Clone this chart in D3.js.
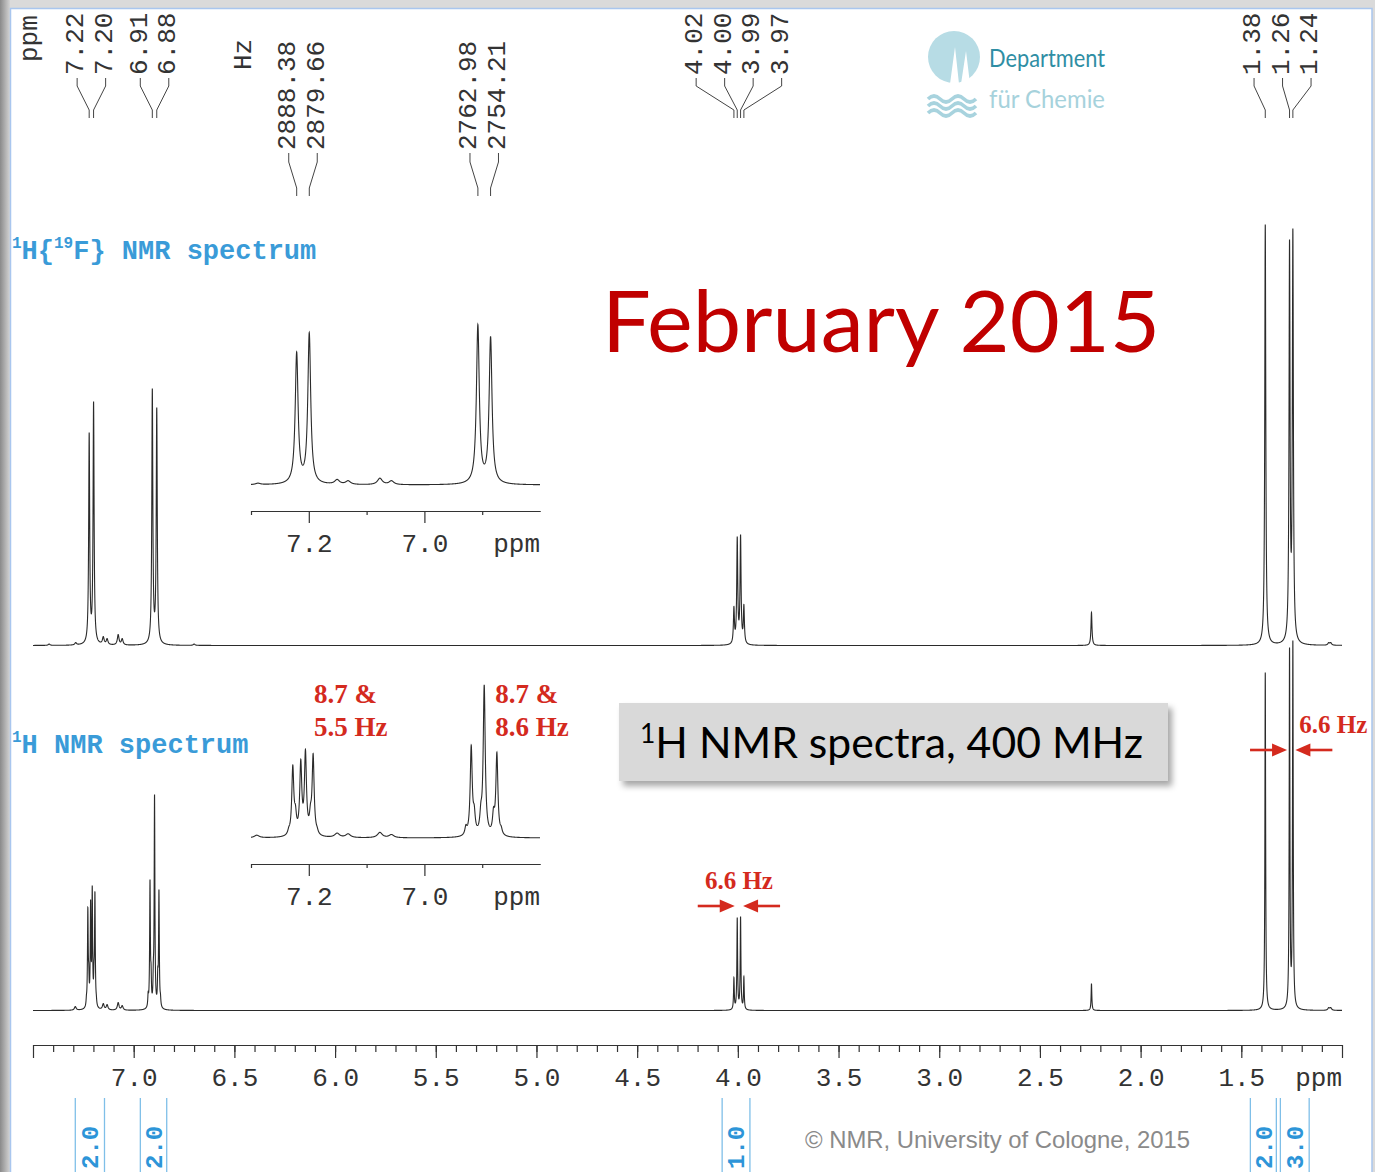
<!DOCTYPE html>
<html>
<head>
<meta charset="utf-8">
<script src="https://cdn.jsdelivr.net/npm/d3@7"></script>
<style>
  html, body { margin: 0; padding: 0; background: #fff; }
  svg { display: block; }
</style>
</head>
<body>
<svg id="chart" width="1375" height="1172"></svg>
<script>
// ---- data ----
// 1H{19F} spectrum (top): line positions in ppm and heights (main-plot px)
const decPpm = [7.2210, 7.1992, 6.9075, 6.8855, 4.0195, 4.0030, 3.9865, 3.9700, 2.244, 1.3810, 1.2605, 1.2440];
const decHeight = [213, 244, 257, 238, 39, 109, 111, 41, 33, 421, 406, 417];
const decMinorPpm = [7.42, 7.288, 7.151, 7.132, 7.077, 7.057, 6.70, 1.066, 1.056];
const decMinorHeight = [1.5, 3, 9, 7, 11, 7, 1.5, 3, 3];

// 1H spectrum (bottom)
const cplPpm = [7.2346, 7.2277, 7.2231, 7.2139, 7.2058, 7.1971, 7.1925, 7.1856,
                6.9282, 6.9190, 6.9138, 6.9023, 6.8965, 6.8804, 6.8746, 6.8671,
                4.0195, 4.0030, 3.9865, 3.9700, 2.244, 1.3810, 1.2605, 1.2440];
const cplHeight = [16, 103, 47, 111, 125, 49, 119, 16,
                   19, 131, 47, 51, 216, 44, 121, 17,
                   33, 93, 94, 34, 27, 338, 363, 370];
const cplMinorPpm = [7.29, 7.151, 7.132, 7.077, 7.057, 1.066, 1.056];
const cplMinorHeight = [4, 7, 6, 8, 5, 3, 3];

// peak labels
const peakLabel = ["7.22", "7.20", "6.91", "6.88", "4.02", "4.00", "3.99", "3.97", "1.38", "1.26", "1.24"];
const peakLabelPpm = [7.2210, 7.1992, 6.9075, 6.8855, 4.0195, 4.0030, 3.9865, 3.9700, 1.3810, 1.2605, 1.2440];
const peakLabelGroup = [0, 0, 1, 1, 2, 2, 2, 2, 3, 3, 3];
const hzLabel = ["2888.38", "2879.66", "2762.98", "2754.21"];
const hzLabelGroup = [0, 0, 1, 1];
const spectrometerMHz = 400;

// axis ticks
const majorTicks = [7.5, 7.0, 6.5, 6.0, 5.5, 5.0, 4.5, 4.0, 3.5, 3.0, 2.5, 2.0, 1.5, 1.0];
const labeledTicks = [7.0, 6.5, 6.0, 5.5, 5.0, 4.5, 4.0, 3.5, 3.0, 2.5, 2.0, 1.5];
const insetMajor = [7.2, 7.0];
const insetMinor = [7.3, 7.1, 6.9];

// integrals
const integralFrom = [7.290, 6.967, 4.078, 1.455, 1.306];
const integralTo = [7.145, 6.836, 3.940, 1.326, 1.163];
const integralValue = ["2.0", "2.0", "1.0", "2.0", "3.0"];

// coupling arrows (pairs of lines) and coupling notes
const arrowLeftPpm = [4.0030, 1.2605];
const arrowRightPpm = [3.9865, 1.2440];
const arrowText = ["6.6 Hz", "6.6 Hz"];
const noteLine1 = ["8.7 &", "8.7 &"];
const noteLine2 = ["5.5 Hz", "8.6 Hz"];
const notePpm = [7.2101, 6.8965];

// ---- setup ----
const W = 1375, H = 1172;
const MONO = "'Liberation Mono', 'DejaVu Sans Mono', monospace";
const BLUE = '#3a9bd8';
const RED = '#d42a1e';
const svg = d3.select('#chart');

const xMain = d3.scaleLinear().domain([7.5, 1.0]).range([33, 1342]);
const xInset = d3.scaleLinear().domain([7.3, 6.8]).range([251, 540]);

const yTop = d3.scaleLinear().domain([0, 421]).range([645.5, 224.5]);
const yBot = d3.scaleLinear().domain([0, 338]).range([1010.5, 672.5]);
const yTopInset = d3.scaleLinear().domain([0, 421]).range([485, 485 - 421 / 1.6]);
const yBotInset = d3.scaleLinear().domain([0, 338]).range([838, 838 - 338 / 1.41]);

// ---- frame ----
const defs = svg.append('defs');
const edge = defs.append('linearGradient').attr('id', 'edge').attr('x1', 0).attr('x2', 1);
edge.append('stop').attr('offset', 0).attr('stop-color', '#8a8a8a');
edge.append('stop').attr('offset', 1).attr('stop-color', '#d4d4d4');
const shadow = defs.append('filter').attr('id', 'shadow')
  .attr('x', '-10%').attr('y', '-20%').attr('width', '120%').attr('height', '150%');
shadow.append('feDropShadow').attr('dx', 4).attr('dy', 5).attr('stdDeviation', 3)
  .attr('flood-color', '#000').attr('flood-opacity', 0.35);

svg.append('rect').attr('width', W).attr('height', H).attr('fill', '#dadada');
svg.append('rect').attr('x', 0).attr('y', 0).attr('width', 10).attr('height', H).attr('fill', 'url(#edge)');
svg.append('rect').attr('x', 10.5).attr('y', 8.5).attr('width', 1361.5).attr('height', H)
  .attr('fill', '#fff').attr('stroke', '#a9c6ee').attr('stroke-width', 1.5);

// ---- spectra ----
function lorentz(d, w) { const t = 2 * d / w; return 1 / (1 + t * t); }

// amplitudes so that the drawn maxima match the heights
function makeSpectrum(pos, height, width) {
  const amp = height.slice();
  for (let it = 0; it < 80; it++) {
    pos.forEach((p, i) => {
      let s = 0;
      pos.forEach((q, j) => { if (j !== i) s += amp[j] * lorentz(p - q, width[j]); });
      amp[i] = Math.max(0, height[i] - s);
    });
  }
  return ppm => {
    let s = 0;
    for (let j = 0; j < pos.length; j++) s += amp[j] * lorentz(ppm - pos[j], width[j]);
    return s;
  };
}

function sampleGrid(lo, hi, step, centers) {
  const pts = d3.range(lo, hi, step).concat([hi]);
  centers.forEach(c => {
    for (let d = -0.04; d <= 0.04; d += 0.0002) pts.push(c + d);
    pts.push(c);
  });
  return pts.filter(p => p >= lo && p <= hi).sort((a, b) => b - a);
}

const decAll = decPpm.concat(decMinorPpm);
const decSpec = makeSpectrum(decAll, decHeight.concat(decMinorHeight),
  decPpm.map(() => 0.006).concat(decMinorPpm.map(() => 0.01)));
const cplAll = cplPpm.concat(cplMinorPpm);
const cplSpec = makeSpectrum(cplAll, cplHeight.concat(cplMinorHeight),
  cplPpm.map(() => 0.0042).concat(cplMinorPpm.map(() => 0.01)));

function drawSpectrum(f, centers, x, y, lo, hi, step) {
  const grid = sampleGrid(lo, hi, step, centers);
  svg.append('path')
    .datum(grid)
    .attr('fill', 'none')
    .attr('stroke', '#2b2b2b')
    .attr('stroke-width', 1.1)
    .attr('d', d3.line().x(p => x(p)).y(p => y(f(p))));
}

drawSpectrum(decSpec, decAll, xMain, yTop, 1.0, 7.5, 0.001);
drawSpectrum(cplSpec, cplAll, xMain, yBot, 1.0, 7.5, 0.001);
drawSpectrum(decSpec, decAll, xInset, yTopInset, 6.8, 7.3, 0.0003);
drawSpectrum(cplSpec, cplAll, xInset, yBotInset, 6.8, 7.3, 0.0003);

// ---- axes ----
function styleAxis(g) {
  g.select('.domain').attr('stroke', '#333').attr('stroke-width', 1.2);
  g.selectAll('.tick line').attr('stroke', '#333').attr('stroke-width', 1.2);
  g.selectAll('.tick text').attr('font-family', MONO).attr('font-size', 26).attr('fill', '#333');
}

const axisY = 1045;
svg.append('g').attr('transform', `translate(0,${axisY})`)
  .call(d3.axisBottom(xMain).tickValues(d3.range(11, 75).map(i => i / 10))
    .tickSize(7).tickSizeOuter(0).tickFormat(''))
  .call(styleAxis);
svg.append('g').attr('transform', `translate(0,${axisY})`)
  .call(d3.axisBottom(xMain).tickValues(majorTicks).tickSize(13).tickSizeOuter(0).tickPadding(10)
    .tickFormat(d => labeledTicks.includes(d) ? d.toFixed(1) : ''))
  .call(styleAxis);
svg.append('text').attr('x', 1342).attr('y', axisY + 41).attr('text-anchor', 'end')
  .attr('font-family', MONO).attr('font-size', 26).attr('fill', '#333').text('ppm');

[511, 864].forEach(ay => {
  svg.append('g').attr('transform', `translate(0,${ay})`)
    .call(d3.axisBottom(xInset).tickValues(insetMinor).tickSize(4).tickSizeOuter(0).tickFormat(''))
    .call(styleAxis);
  svg.append('g').attr('transform', `translate(0,${ay})`)
    .call(d3.axisBottom(xInset).tickValues(insetMajor).tickSize(12).tickSizeOuter(0).tickPadding(11)
      .tickFormat(d => d.toFixed(1)))
    .call(styleAxis);
  svg.append('text').attr('x', 540).attr('y', ay + 41).attr('text-anchor', 'end')
    .attr('font-family', MONO).attr('font-size', 26).attr('fill', '#333').text('ppm');
});

// ---- peak labels ----
function drawLabels(texts, xs, groups, yText, yKnee1, yKnee2, yEnd) {
  const slot = [];
  d3.groups(d3.range(texts.length), i => groups[i]).forEach(([, idx]) => {
    const mean = d3.mean(idx, i => xs[i]);
    idx.forEach((i, k) => { slot[i] = mean + (k - (idx.length - 1) / 2) * 28.5; });
  });
  texts.forEach((t, i) => {
    svg.append('text')
      .attr('transform', `translate(${slot[i] - 2},${yText}) rotate(-90)`)
      .attr('dy', '0.32em')
      .attr('font-family', MONO).attr('font-size', 26).attr('fill', '#333')
      .text(t);
    svg.append('path')
      .attr('fill', 'none').attr('stroke', '#444').attr('stroke-width', 1)
      .attr('d', `M${slot[i]},${yText + 3}V${yKnee1}L${xs[i]},${yKnee2}V${yEnd}`);
  });
}

drawLabels(peakLabel, peakLabelPpm.map(p => xMain(p)), peakLabelGroup, 75, 86, 110, 118);
drawLabels(hzLabel, hzLabel.map(h => xInset(+h / spectrometerMHz)), hzLabelGroup, 150, 162, 188, 196);

svg.append('text').attr('transform', 'translate(29,62) rotate(-90)').attr('dy', '0.32em')
  .attr('font-family', MONO).attr('font-size', 26).attr('fill', '#333').text('ppm');
svg.append('text').attr('transform', 'translate(243,70) rotate(-90)').attr('dy', '0.32em')
  .attr('font-family', MONO).attr('font-size', 26).attr('fill', '#333').text('Hz');

// ---- spectrum titles ----
function title(y, parts) {
  const t = svg.append('text').attr('x', 12).attr('y', y)
    .attr('font-family', MONO).attr('font-size', 27).attr('font-weight', 'bold').attr('fill', BLUE);
  parts.forEach(([s, sup]) => {
    t.append('tspan').attr('font-size', sup ? 16 : 27).attr('dy', sup ? -11 : 11).text(s);
  });
  t.select('tspan').attr('dy', -11);
}
title(259, [['1', true], ['H{', false], ['19', true], ['F} NMR spectrum', false]]);
title(753, [['1', true], ['H NMR spectrum', false]]);

// ---- integrals ----
integralValue.forEach((v, i) => {
  const a = xMain(integralFrom[i]), b = xMain(integralTo[i]);
  [a, b].forEach(xx => svg.append('line').attr('x1', xx).attr('x2', xx).attr('y1', 1098).attr('y2', H)
    .attr('stroke', '#7fbfe8').attr('stroke-width', 1.3));
  svg.append('text')
    .attr('transform', `translate(${(a + b) / 2},${H - 3}) rotate(-90)`)
    .attr('dy', '0.35em')
    .attr('font-family', MONO).attr('font-size', 24).attr('font-weight', 'bold').attr('fill', '#2d95d8')
    .text(v);
});

svg.append('text').attr('x', 805).attr('y', 1148)
  .attr('font-family', "'Liberation Sans', Arial, sans-serif").attr('font-size', 24).attr('fill', '#8a8a8a')
  .attr('textLength', 385).attr('lengthAdjust', 'spacingAndGlyphs')
  .text('\u00A9 NMR, University of Cologne, 2015');

// ---- logo ----
const logo = svg.append('g');
logo.append('circle').attr('cx', 954).attr('cy', 57).attr('r', 26).attr('fill', '#b7dce5');
logo.append('path').attr('fill', '#fff')
  .attr('d', 'M950,84 L955,47 L959,84 Z M961,84 L966,51 L970,84 Z');
[99, 106, 113].forEach(y0 => {
  logo.append('path').attr('fill', 'none').attr('stroke', '#a8d3de').attr('stroke-width', 3.6)
    .attr('d', `M928,${y0} q6,-6 12,0 t12,0 t12,0 t12,0`);
});
logo.append('text').attr('x', 989).attr('y', 67)
  .attr('font-family', 'Lato, sans-serif').attr('font-size', 25).attr('fill', '#2f8ea4')
  .attr('textLength', 116).attr('lengthAdjust', 'spacingAndGlyphs').text('Department');
logo.append('text').attr('x', 989).attr('y', 108)
  .attr('font-family', 'Lato, sans-serif').attr('font-size', 25).attr('fill', '#a6d2dc')
  .attr('textLength', 116).attr('lengthAdjust', 'spacingAndGlyphs').text('für Chemie');

// ---- headline and box ----
svg.append('text').attr('x', 602).attr('y', 352)
  .attr('font-family', 'Lato, sans-serif').attr('font-size', 86).attr('fill', '#c00000')
  .attr('textLength', 558).attr('lengthAdjust', 'spacingAndGlyphs').text('February 2015');

svg.append('rect').attr('x', 619).attr('y', 703).attr('width', 549).attr('height', 78)
  .attr('fill', '#d9d9d9').attr('filter', 'url(#shadow)');
const boxText = svg.append('text').attr('x', 640).attr('y', 758)
  .attr('font-family', 'Lato, sans-serif').attr('font-size', 42).attr('fill', '#000')
  .attr('textLength', 503).attr('lengthAdjust', 'spacingAndGlyphs');
boxText.append('tspan').attr('font-size', 26).attr('dy', -15).text('1');
boxText.append('tspan').attr('dy', 15).text('H NMR spectra, 400 MHz');

// ---- red annotations ----
const SERIF = "'Liberation Serif', 'Times New Roman', serif";
notePpm.forEach((p, i) => {
  const x0 = xInset(p) + 11;
  [noteLine1[i], noteLine2[i]].forEach((s, k) => {
    svg.append('text').attr('x', x0).attr('y', 703 + k * 33)
      .attr('font-family', SERIF).attr('font-size', 27).attr('font-weight', 'bold').attr('fill', RED)
      .text(s);
  });
});

function arrow(tipX, y, dir) {
  // dir = +1 points right, -1 points left
  const len = 37, head = 15, half = 6.5;
  svg.append('line').attr('x1', tipX - dir * len).attr('x2', tipX - dir * head + dir * 1)
    .attr('y1', y).attr('y2', y).attr('stroke', RED).attr('stroke-width', 2.6);
  svg.append('path').attr('fill', RED)
    .attr('d', `M${tipX},${y}L${tipX - dir * head},${y - half}L${tipX - dir * head},${y + half}Z`);
}
const arrowY = [906, 750];
arrowLeftPpm.forEach((p, i) => {
  const xl = xMain(p) - 2.5, xr = xMain(arrowRightPpm[i]) + 2.5;
  arrow(xl, arrowY[i], 1);
  arrow(xr, arrowY[i], -1);
  const tx = svg.append('text')
    .attr('font-family', SERIF).attr('font-size', 25).attr('font-weight', 'bold').attr('fill', RED)
    .text(arrowText[i]);
  if (i === 0) tx.attr('x', (xl + xr) / 2).attr('y', 889).attr('text-anchor', 'middle');
  else tx.attr('x', xr + 4).attr('y', 733);
});
</script>
</body>
</html>
